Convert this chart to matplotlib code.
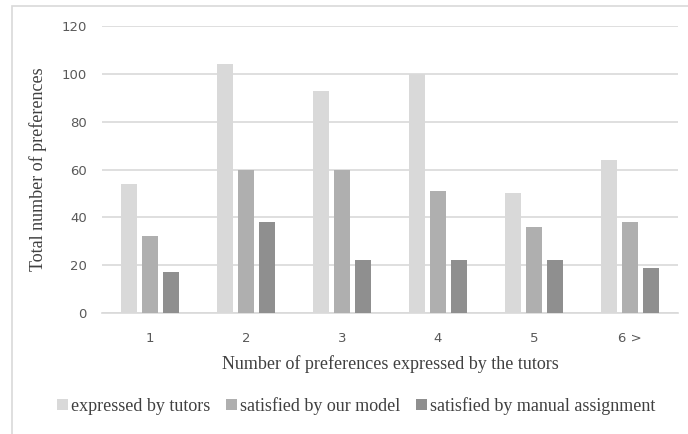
import numpy as np
import matplotlib.pyplot as plt
from matplotlib import patches

categories = ['1', '2', '3', '4', '5', '6 >']
expressed = [54, 104, 93, 100, 50, 64]
model = [32, 60, 60, 51, 36, 38]
manual = [17, 38, 22, 22, 22, 19]
series_names = ['expressed by tutors', 'satisfied by our model', 'satisfied by manual assignment']
colors = ['#d9d9d9', '#afafaf', '#8f8f8f']

W, H = 688, 434
fig = plt.figure(figsize=(W / 100, H / 100), dpi=100)
fig.patches.append(patches.Rectangle((12 / W, -0.1), 1.2, 1 - 6 / H + 0.1, transform=fig.transFigure,
                                     fill=False, edgecolor='#d9d9d9', linewidth=1.2))
ax = fig.add_axes([102 / W, 1 - 313 / H, 576 / W, 287 / H])

x = np.arange(len(categories))
bw = 0.175
step = 0.218
for k, (vals, name) in enumerate(zip([expressed, model, manual], series_names)):
    ax.bar(x + (k - 1) * step, vals, width=bw, color=colors[k], label=name, zorder=3)

ax.set_xlim(-0.5, len(categories) - 0.5)
ax.set_ylim(0, 120)
ax.set_yticks(range(0, 121, 20))
ax.set_xticks(x)
ax.set_xticklabels(categories)
ax.grid(axis='y', color='#d9d9d9', linewidth=1.2, zorder=0)
for s in ['top', 'right', 'left']:
    ax.spines[s].set_visible(False)
ax.spines['bottom'].set_color('#d9d9d9')
ax.spines['bottom'].set_linewidth(1.2)
ax.tick_params(length=0, labelsize=9.5, labelcolor='#595959', pad=11)
ax.tick_params(axis='x', pad=14)

serif = 'Liberation Serif'
ax.set_ylabel('Total number of preferences', family=serif, fontsize=13, color='#404040', labelpad=10)
ax.set_xlabel('Number of preferences expressed by the tutors', family=serif, fontsize=13,
              color='#404040', labelpad=7)
leg = ax.legend(loc='center', bbox_to_anchor=(356 / W, 1 - 406 / H), bbox_transform=fig.transFigure,
                ncol=3, frameon=False, prop={'family': serif, 'size': 13}, handlelength=0.6,
                handleheight=0.6, handletextpad=0.15, columnspacing=0.9)
for t in leg.get_texts():
    t.set_color('#404040')

fig.savefig('out.png', dpi=100)
